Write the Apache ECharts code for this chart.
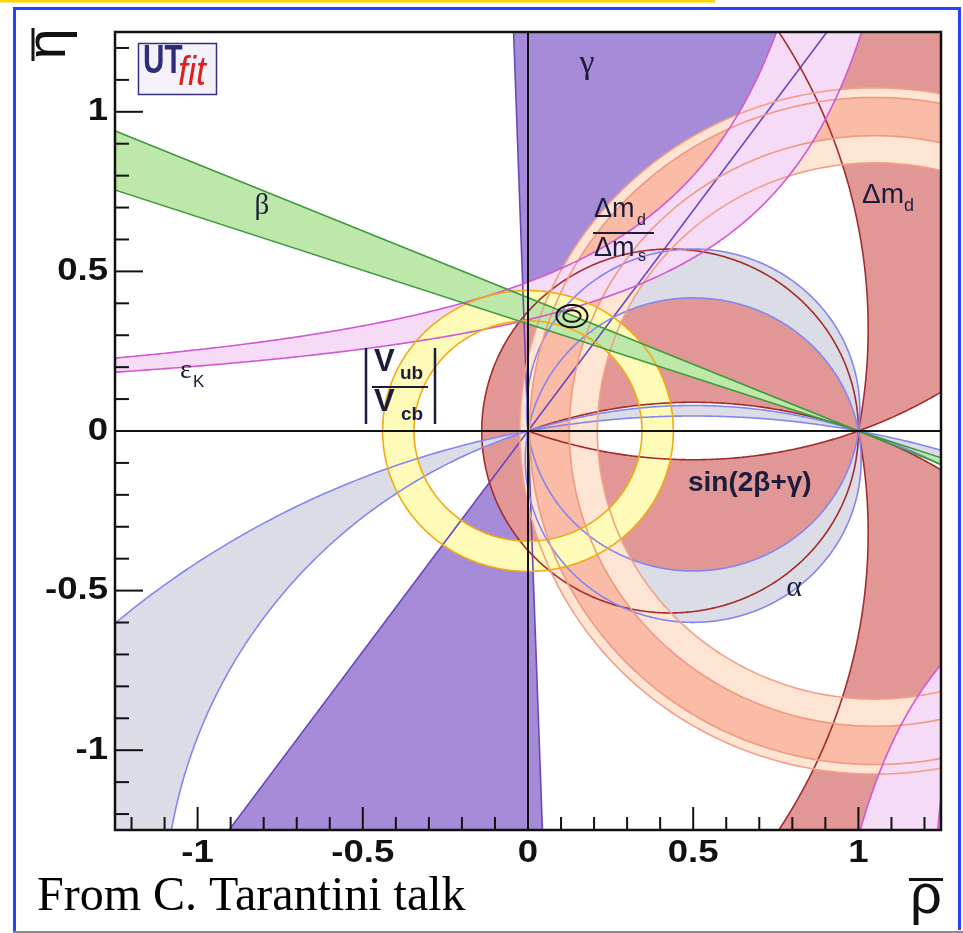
<!DOCTYPE html>
<html>
<head>
<meta charset="utf-8">
<script src="https://cdn.jsdelivr.net/npm/echarts@6.0.0/dist/echarts.min.js"></script>
<style>
html,body{margin:0;padding:0;background:#fff;}
#chart{width:963px;height:933px;}
</style>
</head>
<body>
<div id="chart"></div>
<script>
// ---------------- axes ----------------
const rhoRange = [-1.25, 1.25];
const etaRange = [-1.25, 1.25];
const majorTicks = [-1, -0.5, 0, 0.5, 1];
const tickLabels = ['-1', '-0.5', '0', '0.5', '1'];
const minorTicks = [-1.2, -1.1, -0.9, -0.8, -0.7, -0.6, -0.4, -0.3, -0.2, -0.1,
                    0.1, 0.2, 0.3, 0.4, 0.6, 0.7, 0.8, 0.9, 1.1, 1.2];

// ---------------- constraints ----------------
const gammaEdgesDeg = [54.1, 92.0];            // γ wedge edge angles, apex (0,0)
const betaApex = [1, 0];                       // sin2β wedge apex
const betaEtaAtRhoMin = [0.94, 0.755];         // η of the two β edges at ρ = -1.25
const vubCentre = [0, 0];
const vubRadii = [0.345, 0.44];                // |Vub/Vcb| ring
const dmsCentre = [1.05, 0];
const dmsWideRadii = [0.84, 1.075];            // Δmd/Δms outer (light) ring
const dmsNarrowRadii = [0.925, 1.045];         // Δmd/Δms inner (dark) ring
const epsUpperEdge = [1.2, 0.56];              // εK edge  η(a-ρ)=k : [a, k]
const epsLowerEdge = [1.40, 0.488];
const epsSecondEdgeA = [0.66, 0.432];          // lower-right branch edges
const epsSecondEdgeB = [1.126, 0.1425];
const alphaBandTops = [[0.08, 0.047], [0.57, 0.417]]; // η at ρ=0.5 of α arcs through (0,0),(1,0)
const s2bgCircle = [0.43, 0, 0.57];            // sin(2β+γ) outer circle [ρc, ηc, r]
const s2bgLensTops = [0.09, -0.09];            // sin(2β+γ) inner lens arcs (η at ρ=0.5)
const dmdArc = [-0.7034, 0.3203, 1.733];       // Δmd boundary arc [ρc, ηc, r]
const fitCentre = [0.133, 0.36];
const fitContourAxes = [[0.047, 0.035], [0.026, 0.018]];

// ---------------- geometry helpers ----------------
const D = Math.PI / 180;
function arc(cx, cy, r, a0, a1, n) {
  const p = [];
  for (let i = 0; i <= n; i++) { const a = a0 + (a1 - a0) * i / n; p.push([cx + r * Math.cos(a), cy + r * Math.sin(a)]); }
  return p;
}
function chord(t) { const k = (t * t - 0.25) / (2 * t); return [0.5, k, Math.abs(t - k)]; }
function upperArc(c, n) {
  const aQ = Math.atan2(-c[1], 1 - c[0]); let aP = Math.atan2(-c[1], -c[0]);
  while (aP <= aQ) aP += 2 * Math.PI;
  return arc(c[0], c[1], c[2], aQ, aP, n);
}
function lowerArc(c, n) {
  const aP = Math.atan2(-c[1], -c[0]); let aQ = Math.atan2(-c[1], 1 - c[0]);
  while (aQ <= aP) aQ += 2 * Math.PI;
  return arc(c[0], c[1], c[2], aP, aQ, n);
}
const rev = a => a.slice().reverse();
function ring(c, radii) {
  return [arc(c[0], c[1], radii[1], 0, 2 * Math.PI, 400), arc(c[0], c[1], radii[0], 2 * Math.PI, 0, 400)];
}
function hyper(edge, e0, e1, n) { // ρ = a - k/η, η sampled log-uniformly
  const p = [], s = Math.sign(e0);
  for (let i = 0; i <= n; i++) {
    const e = s * Math.exp(Math.log(Math.abs(e0)) + (Math.log(Math.abs(e1)) - Math.log(Math.abs(e0))) * i / n);
    p.push([edge[0] - edge[1] / e, e]);
  }
  return p;
}

function buildRegions() {
  const R = {};
  const far = 4;
  const g0 = gammaEdgesDeg[0] * D, g1 = gammaEdgesDeg[1] * D;
  R.gamma = [
    [[0, 0], [far * Math.cos(g0), far * Math.sin(g0)], [far * Math.cos(g1), far * Math.sin(g1)]],
    [[0, 0], [-far * Math.cos(g0), -far * Math.sin(g0)], [-far * Math.cos(g1), -far * Math.sin(g1)]]
  ];
  const [sx, sy, sr] = s2bgCircle;
  const lu = chord(s2bgLensTops[0]), ld = chord(s2bgLensTops[1]);
  R.s2bg = [
    arc(sx, sy, sr, 0, Math.PI, 300).concat([[0, 0]], rev(upperArc(lu, 200))),
    arc(sx, sy, sr, Math.PI, 2 * Math.PI, 300).concat(rev(lowerArc(ld, 200)))
  ];
  const [dx, dy, dr] = dmdArc;
  const cont = arc(ld[0], ld[1], ld[2], Math.atan2(-ld[1], 1 - ld[0]), -40 * D, 100);
  const up = arc(dx, dy, dr, 40 * D, Math.atan2(-dy, 1 - dx), 300).concat(cont, [[2, 0.6], [2, 2], [0.4, 2]]);
  R.dmd = [up, up.map(p => [p[0], -p[1]])];
  R.alpha = [];
  alphaBandTops.forEach(([t1, t2]) => {
    const c1 = chord(t1), c2 = chord(t2);
    R.alpha.push(upperArc(c1, 300).concat(rev(upperArc(c2, 300))));
    R.alpha.push(lowerArc(c2, 900).concat(rev(lowerArc(c1, 900))));
  });
  R.dmsWide = ring(dmsCentre, dmsWideRadii);
  R.dmsNarrow = ring(dmsCentre, dmsNarrowRadii);
  const eu0 = epsUpperEdge[1] / (epsUpperEdge[0] + 1.6), el0 = epsLowerEdge[1] / (epsLowerEdge[0] + 1.6);
  R.eps = [
    hyper(epsUpperEdge, eu0, 1.8, 500).concat(rev(hyper(epsLowerEdge, el0, 1.8, 500))),
    hyper(epsSecondEdgeA, -1.8, -0.4, 300).concat(rev(hyper(epsSecondEdgeB, -1.8, -0.4, 300)))
  ];
  R.vub = ring(vubCentre, vubRadii);
  const span = betaApex[0] - rhoRange[0];
  const s0 = betaEtaAtRhoMin[0] / span, s1 = betaEtaAtRhoMin[1] / span;
  R.beta = [
    [betaApex, [-2, s0 * (betaApex[0] + 2)], [-2, s1 * (betaApex[0] + 2)]],
    [betaApex, [2, s1 * (betaApex[0] - 2)], [2, s0 * (betaApex[0] - 2)]]
  ];
  return R;
}

const ST = {
  gamma:     { fill: '#a58bd8', stroke: '#6a48bc' },
  s2bg:      { fill: '#e29797', stroke: '#a32c2c' },
  dmd:       { fill: '#e29797', stroke: '#a32c2c' },
  alpha:     { fill: '#dcdce6', stroke: '#8585f0' },
  dmsWide:   { fill: '#fde4d3', stroke: '#f1a088' },
  dmsNarrow: { fill: '#fabba7', stroke: '#ee9a82' },
  eps:       { fill: '#f6dbf6', stroke: '#d158d1' },
  vub:       { fill: '#fefab8', stroke: '#f4a912' },
  beta:      { fill: '#bde8a9', stroke: '#3e993e' }
};
const ORDER = ['gamma', 's2bg', 'dmd', 'alpha', 'dmsWide', 'dmsNarrow', 'eps', 'vub', 'beta'];

function regionItem(params, api) {
  const R = buildRegions();
  const toPath = rings => rings.map(r => r.map((p, i) => {
    const q = api.coord(p); return (i ? 'L' : 'M') + q[0].toFixed(2) + ' ' + q[1].toFixed(2);
  }).join('') + 'Z').join('');
  const ch = [];
  ORDER.forEach(k => ch.push({ type: 'path', shape: { pathData: toPath(R[k]) }, style: { fill: ST[k].fill, stroke: 'none' } }));
  ORDER.forEach(k => ch.push({ type: 'path', shape: { pathData: toPath(R[k]) }, style: { fill: 'none', stroke: ST[k].stroke, lineWidth: 1.6 } }));
  // coordinate axes through the origin
  const a = api.coord([rhoRange[0], 0]), b = api.coord([rhoRange[1], 0]);
  const c = api.coord([0, etaRange[0]]), d = api.coord([0, etaRange[1]]);
  ch.push({ type: 'line', shape: { x1: a[0], y1: a[1], x2: b[0], y2: b[1] }, style: { stroke: '#111', lineWidth: 2 } });
  ch.push({ type: 'line', shape: { x1: c[0], y1: c[1], x2: d[0], y2: d[1] }, style: { stroke: '#111', lineWidth: 2 } });
  // fit contours
  fitContourAxes.forEach(ax => {
    const pts = arc(0, 0, 1, 0, 2 * Math.PI, 80).map(p => [fitCentre[0] + ax[0] * p[0], fitCentre[1] + ax[1] * p[1]]);
    ch.push({ type: 'path', shape: { pathData: toPath([pts]) }, style: { fill: 'none', stroke: '#111', lineWidth: 2 } });
  });
  return { type: 'group', children: ch };
}

const TICKFONT = 'bold 31px "Liberation Sans", Arial, sans-serif';
function frameItem(params, api) {
  const ch = [];
  const tl = api.coord([rhoRange[0], etaRange[1]]), br = api.coord([rhoRange[1], etaRange[0]]);
  minorTicks.forEach(v => {
    const p = api.coord([v, etaRange[0]]);
    ch.push({ type: 'line', shape: { x1: p[0], y1: p[1], x2: p[0], y2: p[1] - 13 }, style: { stroke: '#111', lineWidth: 2 } });
    const q = api.coord([rhoRange[0], v]);
    ch.push({ type: 'line', shape: { x1: q[0], y1: q[1], x2: q[0] + 14, y2: q[1] }, style: { stroke: '#111', lineWidth: 2 } });
  });
  majorTicks.forEach((v, i) => {
    const p = api.coord([v, etaRange[0]]);
    ch.push({ type: 'line', shape: { x1: p[0], y1: p[1], x2: p[0], y2: p[1] - 23 }, style: { stroke: '#111', lineWidth: 2 } });
    ch.push({ type: 'text', x: p[0], y: p[1] + 23, scaleX: 1.18,
      style: { text: tickLabels[i], font: TICKFONT, fill: '#111', align: 'center', verticalAlign: 'middle', textAlign: 'center', textVerticalAlign: 'middle' } });
    const q = api.coord([rhoRange[0], v]);
    ch.push({ type: 'line', shape: { x1: q[0], y1: q[1], x2: q[0] + 28, y2: q[1] }, style: { stroke: '#111', lineWidth: 2 } });
    ch.push({ type: 'text', x: q[0] - 7, y: q[1], scaleX: 1.18,
      style: { text: tickLabels[i], font: TICKFONT, fill: '#111', align: 'right', verticalAlign: 'middle', textAlign: 'right', textVerticalAlign: 'middle' } });
  });
  ch.push({ type: 'rect', shape: { x: tl[0], y: tl[1], width: br[0] - tl[0], height: br[1] - tl[1] },
    style: { fill: 'none', stroke: '#111', lineWidth: 2.5 } });
  return { type: 'group', children: ch };
}

function txt(x, y, text, font, opts) {
  opts = opts || {};
  const al = opts.align || 'left';
  return Object.assign({ type: 'text', x: x, y: y, z: 100,
    style: { text: text, font: font, fill: opts.fill || '#1b1b3c', align: al, verticalAlign: 'middle', textAlign: al, textVerticalAlign: 'middle' } },
    opts.extra || {});
}
function ln(x1, y1, x2, y2, color, w) {
  return { type: 'line', z: 100, shape: { x1, y1, x2, y2 }, style: { stroke: color, lineWidth: w } };
}
const SANS = '"Liberation Sans", Arial, sans-serif';
const SERIF = '"Liberation Serif", "Times New Roman", serif';

const graphics = [
  // slide frame
  ln(0, 1, 715, 1, '#ffd400', 3),
  ln(13, 8.5, 961, 8.5, '#2442ff', 3),
  ln(14.5, 7, 14.5, 933, '#2442ff', 3),
  ln(959.5, 7, 959.5, 930, '#2442ff', 3),
  ln(13, 932, 963, 932, '#8a8a8a', 2),
  // UTfit logo
  { type: 'rect', z: 100, shape: { x: 138.5, y: 43.5, width: 78, height: 51 }, style: { fill: '#f5f1fa', stroke: '#32327e', lineWidth: 1.5 } },
  txt(143, 62, 'UT', 'bold 40px ' + SANS, { fill: '#2c2c78', extra: { scaleX: 0.74 } }),
  txt(178, 74, 'fit', 'italic 40px ' + SANS, { fill: '#dd1f1f', extra: { scaleX: 0.9 } }),
  // axis titles
  txt(50, 44, 'η', '56px ' + SANS, { fill: '#111', align: 'center', extra: { rotation: Math.PI / 2 } }),
  ln(33, 28, 33, 61, '#111', 3),
  txt(926, 898, 'ρ', '56px ' + SANS, { fill: '#111', align: 'center' }),
  ln(909, 879.5, 943, 879.5, '#111', 3),
  // credit
  txt(37, 897, 'From C. Tarantini talk', '48px ' + SERIF, { fill: '#000' }),
  // constraint labels
  txt(587, 64, 'γ', '34px ' + SERIF, { align: 'center' }),
  txt(262, 206, 'β', '29px ' + SERIF, { align: 'center' }),
  txt(180, 371, 'ε', '28px ' + SERIF),
  txt(193, 382, 'K', '17px ' + SANS),
  txt(862, 195, 'Δm', '28px ' + SANS),
  txt(904, 206, 'd', '18px ' + SANS),
  txt(594, 210, 'Δm', '27px ' + SANS),
  txt(637, 221, 'd', '16px ' + SANS),
  ln(593, 233, 654, 233, '#1b1b3c', 2),
  txt(594, 249, 'Δm', '27px ' + SANS),
  txt(638, 257, 's', '16px ' + SANS),
  txt(688, 483, 'sin(2β+γ)', 'bold 28px ' + SANS),
  txt(794, 588, 'α', '30px ' + SERIF, { align: 'center' }),
  txt(374, 362, 'V', 'bold 31px ' + SANS),
  txt(400, 374, 'ub', 'bold 19px ' + SANS),
  ln(372, 387, 428, 387, '#1b1b3c', 2.2),
  txt(374, 402, 'V', 'bold 31px ' + SANS),
  txt(401, 415, 'cb', 'bold 19px ' + SANS),
  ln(366, 348, 366, 424, '#1b1b3c', 2.5),
  ln(435, 348, 435, 424, '#1b1b3c', 2.5)
];

const chart = echarts.init(document.getElementById('chart'), null, { renderer: 'canvas', width: 963, height: 933 });
chart.setOption({
  animation: false,
  backgroundColor: '#ffffff',
  grid: { left: 115, top: 32, width: 826, height: 798, show: false },
  xAxis: { type: 'value', min: rhoRange[0], max: rhoRange[1], show: false },
  yAxis: { type: 'value', min: etaRange[0], max: etaRange[1], show: false },
  series: [
    { type: 'custom', coordinateSystem: 'cartesian2d', clip: true, silent: true, data: [[0, 0]], renderItem: regionItem, z: 2 },
    { type: 'custom', coordinateSystem: 'cartesian2d', clip: false, silent: true, data: [[0, 0]], renderItem: frameItem, z: 3 }
  ],
  graphic: { elements: graphics }
});
</script>
</body>
</html>
